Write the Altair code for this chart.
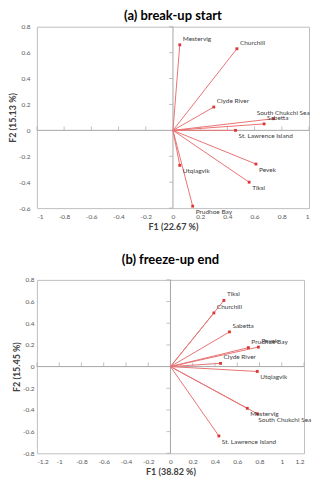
import altair as alt
import pandas as pd

# ---- data ----
a_names = ["Mestervig", "Churchill", "Clyde River", "South Chukchi Sea", "Sabetta",
           "St. Lawrence Island", "Pevek", "Tiksi", "Utqiagvik", "Prudhoe Bay"]
a_f1 = [0.05, 0.47, 0.30, 0.74, 0.67, 0.46, 0.61, 0.56, 0.05, 0.145]
a_f2 = [0.66, 0.63, 0.18, 0.09, 0.05, 0.00, -0.26, -0.40, -0.27, -0.585]
a_pos = ["a", "a", "a", "al", "a", "b", "b", "b", "b", "b"]

b_names = ["Tiksi", "Churchill", "Sabetta", "Prudhoe Bay", "Pevek", "Clyde River",
           "Utqiagvik", "Mestervig", "South Chukchi Sea", "St. Lawrence Island"]
b_f1 = [0.48, 0.39, 0.53, 0.70, 0.79, 0.45, 0.78, 0.69, 0.78, 0.435]
b_f2 = [0.61, 0.495, 0.32, 0.175, 0.18, 0.03, -0.045, -0.385, -0.435, -0.64]
b_pos = ["a", "a", "a", "a", "a", "a", "b", "b", "bl", "b"]

a_xticks = [-1, -0.8, -0.6, -0.4, -0.2, 0, 0.2, 0.4, 0.6, 0.8, 1]
a_yticks = [-0.6, -0.4, -0.2, 0, 0.2, 0.4, 0.6, 0.8]
b_xticks = [-1.2, -1, -0.8, -0.6, -0.4, -0.2, 0, 0.2, 0.4, 0.6, 0.8, 1, 1.2]
b_yticks = [-0.8, -0.6, -0.4, -0.2, 0, 0.2, 0.4, 0.6, 0.8]

LINE = "#e87373"
PT = "#dc3535"
GREY = "#a6a6a6"
FONT = "Lato"

# label placement groups: (dx, dy) in pixels
OFFSETS = {"a": (3, -6), "b": (3, 6), "al": (-17, -6), "bl": (1, 6)}


def panel(names, f1, f2, pos, xt, yt, title, xtitle, ytitle, w, h,
          lpad, tpad, toff):
    df = pd.DataFrame({"name": names, "F1": f1, "F2": f2, "pos": pos,
                       "x0": 0.0, "y0": 0.0})
    xs = alt.Scale(domain=[xt[0], xt[-1]], nice=False, zero=False)
    ys = alt.Scale(domain=[yt[0], yt[-1]], nice=False, zero=False)
    common = dict(ticks=False, domain=False, grid=False, labelExpr="'' + datum.value",
                  labelFontSize=6.5, labelColor="#595959", titleFontSize=9,
                  titleFontWeight="bold", titleColor="#404040", labelFont=FONT,
                  titleFont=FONT, labelOverlap=False, labelBound=False)
    xax = alt.Axis(values=xt, labelPadding=5, titlePadding=3, labelFlush=True, **common)
    yax = alt.Axis(values=yt, labelPadding=lpad, titlePadding=tpad, labelFlush=False, **common)
    X = lambda f: alt.X(f, scale=xs, axis=xax, title=xtitle)
    Y = lambda f: alt.Y(f, scale=ys, axis=yax, title=ytitle)
    base = alt.Chart(df)
    tx = pd.DataFrame({"v": [v for v in xt if v != 0]})
    ty = pd.DataFrame({"v": [v for v in yt if v != 0]})

    hzero = alt.Chart(pd.DataFrame({"y": [0]})).mark_rule(color=GREY, strokeWidth=1).encode(
        y=Y("y:Q"))
    vzero = alt.Chart(pd.DataFrame({"x": [0]})).mark_rule(color=GREY, strokeWidth=1).encode(
        x=X("x:Q"))
    xticks = alt.Chart(tx).mark_tick(orient="vertical", size=4, yOffset=-2,
                                     color=GREY, thickness=1).encode(
        x=X("v:Q"), y=alt.datum(0, scale=ys, axis=yax, title=ytitle))
    yticks = alt.Chart(ty).mark_tick(orient="horizontal", size=4, xOffset=-2,
                                     color=GREY, thickness=1).encode(
        y=Y("v:Q"), x=alt.datum(0, scale=xs, axis=xax, title=xtitle))
    vec = base.mark_rule(color=LINE, strokeWidth=1).encode(
        x=X("x0:Q"), y=Y("y0:Q"), x2="F1:Q", y2="F2:Q")
    pts = base.mark_point(shape="square", filled=True, size=8, color=PT, opacity=1).encode(
        x=X("F1:Q"), y=Y("F2:Q"))
    txt_style = dict(align="left", baseline="middle", fontSize=6.5, color="#404040", font=FONT)
    labels = []
    for key, (dx, dy) in OFFSETS.items():
        if key in pos:
            labels.append(base.transform_filter(alt.datum.pos == key)
                          .mark_text(dx=dx, dy=dy, **txt_style)
                          .encode(x=X("F1:Q"), y=Y("F2:Q"), text="name:N"))
    return alt.layer(hzero, vzero, xticks, yticks, vec, pts, *labels).properties(
        width=w, height=h,
        title=alt.TitleParams(title, fontSize=13, fontWeight="bold", anchor="middle",
                              frame="group", offset=toff, color="black", font=FONT))


pa = panel(a_names, a_f1, a_f2, a_pos, a_xticks, a_yticks, "(a)  break-up start",
           "F1 (22.67 %)", "F2 (15.13 %)", 273, 182, 7, 1, 1)
pb = panel(b_names, b_f1, b_f2, b_pos, b_xticks, b_yticks, "(b)  freeze-up end",
           "F1 (38.82 %)", "F2 (15.45 %)", 268, 174, 3, 1, 10)

chart = alt.concat(pa, pb, columns=1, spacing=21).properties(
    align="none", bounds="full", padding=0
).configure_view(stroke="#bfbfbf", strokeWidth=1).configure_axis(labelOverlap=False)

chart.save("out.html", embed_options={"renderer": "svg", "actions": False})
